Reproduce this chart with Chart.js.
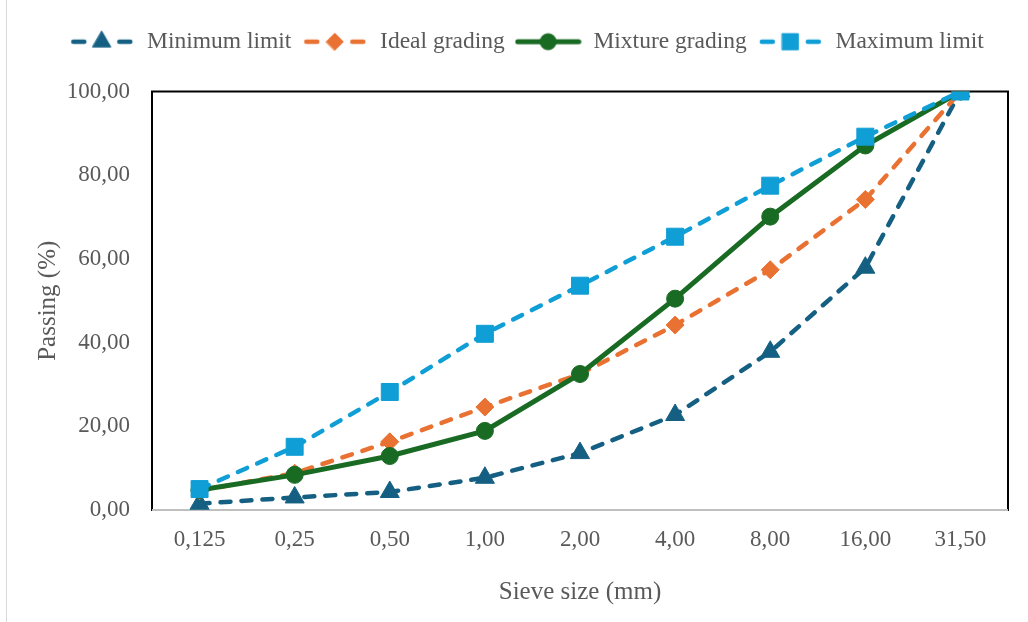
<!DOCTYPE html>
<html>
<head>
<meta charset="utf-8">
<script src="https://cdn.jsdelivr.net/npm/chart.js@4.4.1/dist/chart.umd.min.js"></script>
<style>
  html, body { margin: 0; padding: 0; background: #fff; }
  #wrap { position: relative; width: 1028px; height: 622px; }
  #frame { position: absolute; left: 6px; top: 0; width: 0; height: 622px; border-left: 1px solid #d9d9d9; }
</style>
</head>
<body>
<div id="wrap">
  <div id="frame"></div>
  <canvas id="gradingChart" width="1028" height="622"></canvas>
</div>
<script>
/* Data */
const sieveSizes = ['0,125', '0,25', '0,50', '1,00', '2,00', '4,00', '8,00', '16,00', '31,50'];
const minimumLimit = [1.5, 3.0, 4.3, 7.7, 13.6, 22.7, 37.8, 57.9, 100];
const idealGrading = [4.6, 8.8, 16.3, 24.6, 32.5, 44.2, 57.4, 74.2, 100];
const mixtureGrading = [4.8, 8.4, 12.9, 18.9, 32.5, 50.5, 70.1, 87.1, 100];
const maximumLimit = [5.0, 15.1, 28.2, 42.1, 53.6, 65.3, 77.5, 89.2, 100];

const FONT = "'Liberation Serif', 'Times New Roman', serif";
const TEXT = '#595959';
const LEGEND_SIZE = 23.5;

/* legend swatch: line + marker, like the office legend */
function swatch(color, style, radius, dashed) {
  const c = document.createElement('canvas');
  c.width = 67; c.height = 26;
  const ctx = c.getContext('2d');
  ctx.strokeStyle = color;
  ctx.fillStyle = color;
  ctx.lineCap = 'round';
  ctx.lineWidth = dashed ? 4.5 : 5;
  ctx.beginPath();
  if (dashed) {
    ctx.moveTo(5, 13); ctx.lineTo(16, 13);
    ctx.moveTo(51, 13); ctx.lineTo(62, 13);
  } else {
    ctx.moveTo(3, 13); ctx.lineTo(64, 13);
  }
  ctx.stroke();
  ctx.lineWidth = 1;
  Chart.helpers.drawPoint(ctx, {pointStyle: style, rotation: 0, radius: radius, borderWidth: 1}, 33.5, 13);
  return c;
}

function series(label, data, color, style, radius, dashed, order) {
  return {
    label: label,
    data: data,
    borderColor: color,
    backgroundColor: color,
    borderWidth: dashed ? 4.5 : 5,
    borderDash: dashed ? [10, 11] : [],
    borderCapStyle: 'round',
    pointStyle: style,
    pointRadius: radius,
    pointHoverRadius: radius,
    pointBorderWidth: 1,
    pointBackgroundColor: color,
    pointBorderColor: color,
    tension: 0,
    fill: false,
    order: order,
    legendImg: swatch(color, style, radius * 0.95, dashed)
  };
}

const plotBorder = {
  id: 'plotBorder',
  beforeDatasetsDraw(chart) {
    const {ctx, chartArea: a} = chart;
    ctx.save();
    ctx.strokeStyle = '#000';
    ctx.lineWidth = 2;
    ctx.strokeRect(a.left, a.top, a.right - a.left, a.bottom - a.top);
    ctx.strokeStyle = '#bfbfbf';
    ctx.beginPath();
    ctx.moveTo(a.left, a.bottom);
    ctx.lineTo(a.right, a.bottom);
    ctx.stroke();
    ctx.restore();
  }
};

const legendShift = {
  id: 'legendShift',
  afterLayout(chart) {
    chart.legend.left += 22;
    chart.legend.right += 22;
  }
};

/* Create chart */
const my_chart = new Chart('gradingChart', {
  type: 'line',
  data: {
    labels: sieveSizes,
    datasets: [
      series('Minimum limit', minimumLimit, '#156082', 'triangle', 11, true, 4),
      series('Ideal grading', idealGrading, '#E97132', 'rectRot', 9, true, 3),
      series('Mixture grading', mixtureGrading, '#196B24', 'circle', 8.5, false, 2),
      series('Maximum limit', maximumLimit, '#0F9ED5', 'rect', 12, true, 1)
    ]
  },
  plugins: [plotBorder, legendShift],
  options: {
    responsive: false,
    animation: false,
    layout: {
      padding: {left: 0, right: 20, top: 20, bottom: 0}
    },
    scales: {
      x: {
        offset: true,
        grid: {display: false, drawTicks: false},
        border: {display: false},
        ticks: {
          color: TEXT,
          padding: 16,
          font: {family: FONT, size: 23}
        },
        title: {
          display: true,
          text: 'Sieve size (mm)',
          color: TEXT,
          padding: {top: 0, bottom: 15},
          font: {family: FONT, size: 25}
        },
        afterFit(scale) { scale.height = 112; }
      },
      y: {
        min: 0,
        max: 100,
        grid: {display: false, drawTicks: false},
        border: {display: false},
        ticks: {
          stepSize: 20,
          color: TEXT,
          padding: 22,
          font: {family: FONT, size: 23},
          callback: v => v.toFixed(2).replace('.', ',')
        },
        title: {
          display: true,
          text: 'Passing (%)',
          color: TEXT,
          padding: {top: 33, bottom: 0},
          font: {family: FONT, size: 25}
        },
        afterFit(scale) { scale.width = 152; }
      }
    },
    plugins: {
      tooltip: {enabled: false},
      title: {
        display: true,
        text: '',
        weight: 500,
        padding: {top: 18, bottom: 0},
        font: {size: 10, lineHeight: 1}
      },
      legend: {
        position: 'top',
        labels: {
          usePointStyle: true,
          pointStyleWidth: 67,
          padding: 10,
          color: TEXT,
          font: {family: FONT, size: LEGEND_SIZE},
          generateLabels(chart) {
            return chart.data.datasets.map((ds, i) => ({
              text: ds.label,
              pointStyle: ds.legendImg,
              fillStyle: ds.borderColor,
              strokeStyle: ds.borderColor,
              fontColor: TEXT,
              lineWidth: 0,
              hidden: !chart.isDatasetVisible(i),
              datasetIndex: i
            }));
          }
        }
      }
    }
  }
});
</script>
</body>
</html>
